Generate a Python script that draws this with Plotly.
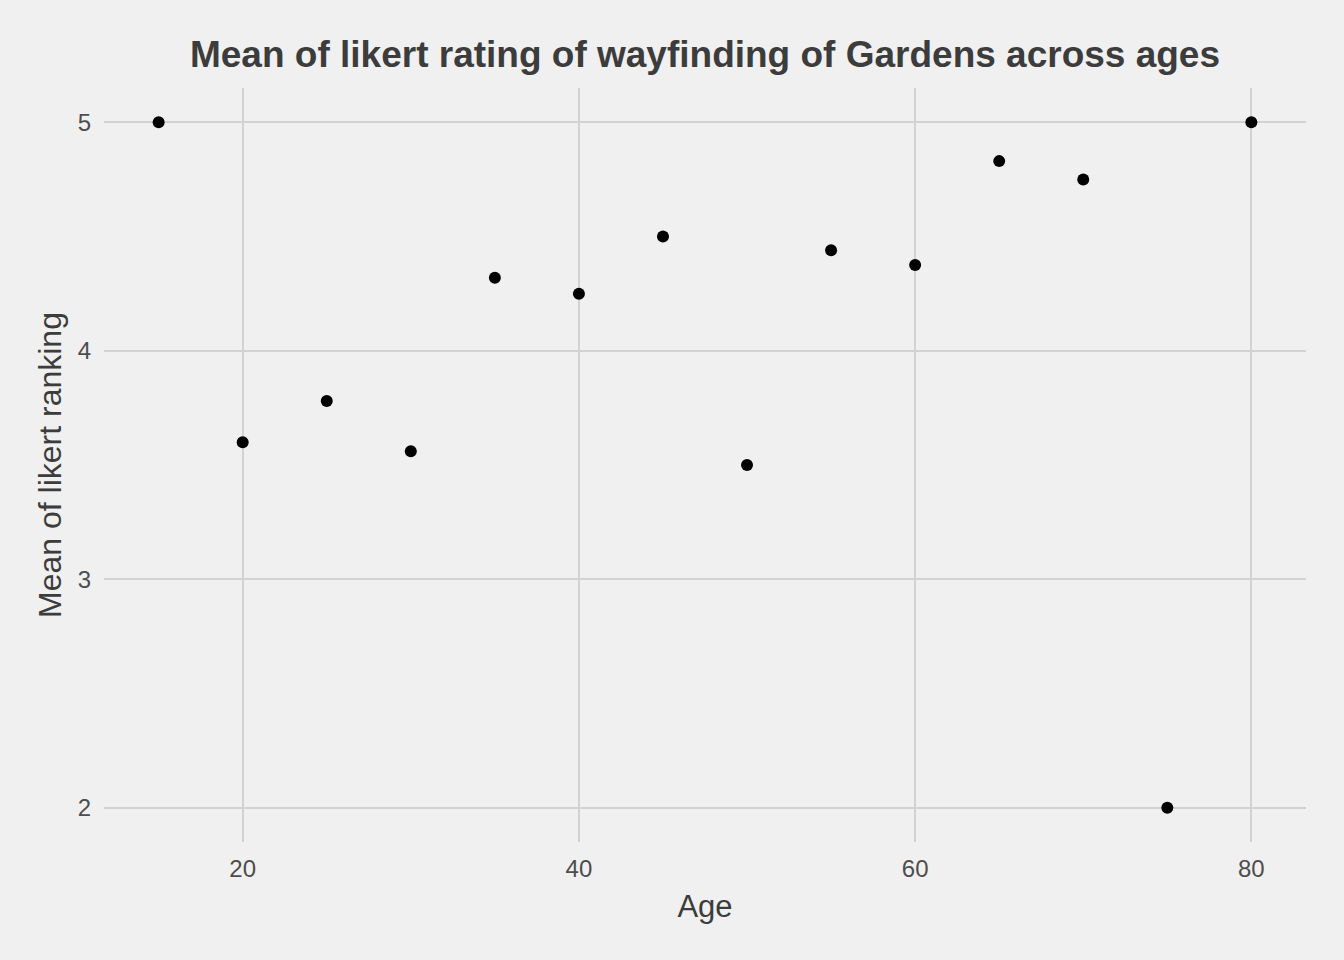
import plotly.graph_objects as go

ages = [15, 20, 25, 30, 35, 40, 45, 50, 55, 60, 65, 70, 75, 80]
mean_likert = [5.0, 3.6, 3.78, 3.56, 4.32, 4.25, 4.5, 3.5, 4.44, 4.375, 4.83, 4.75, 2.0, 5.0]
x_ticks = [20, 40, 60, 80]
y_ticks = [2, 3, 4, 5]

fig = go.Figure()
fig.add_trace(go.Scatter(
    x=ages, y=mean_likert, mode="markers",
    marker=dict(color="black", size=12),
    showlegend=False, hoverinfo="x+y",
))

fig.update_layout(
    width=1344, height=960,
    paper_bgcolor="#F0F0F0", plot_bgcolor="#F0F0F0",
    margin=dict(l=104, r=38, t=88, b=118),
    font=dict(family="Arial, Liberation Sans, sans-serif", color="#3C3C3C"),
    title=dict(
        text="<b>Mean of likert rating of wayfinding of Gardens across ages</b>",
        x=0.5, xref="paper", xanchor="center",
        y=1 - 54 / 960, yanchor="middle",
        font=dict(size=37, color="#3C3C3C"),
    ),
    xaxis=dict(
        range=[11.75, 83.25], tickvals=x_ticks, ticktext=[str(v) for v in x_ticks],
        showgrid=True, gridcolor="#D2D2D2", gridwidth=2, zeroline=False,
        showline=False, ticks="", tickfont=dict(size=24, color="#4D4D4D"),
        ticklabelstandoff=10,
        title=dict(text="Age", font=dict(size=31, color="#3C3C3C"), standoff=14),
    ),
    yaxis=dict(
        range=[1.85, 5.15], tickvals=y_ticks, ticktext=[str(v) for v in y_ticks],
        showgrid=True, gridcolor="#D2D2D2", gridwidth=2, zeroline=False,
        showline=False, ticks="", tickfont=dict(size=24, color="#4D4D4D"),
        ticklabelstandoff=12,
        title=dict(text="Mean of likert ranking", font=dict(size=32, color="#3C3C3C"), standoff=6),
    ),
)

fig.write_html(
    "out.html",
    config={"displayModeBar": False},
    post_script="document.body.style.margin='0';document.body.style.background='#F0F0F0';",
)
